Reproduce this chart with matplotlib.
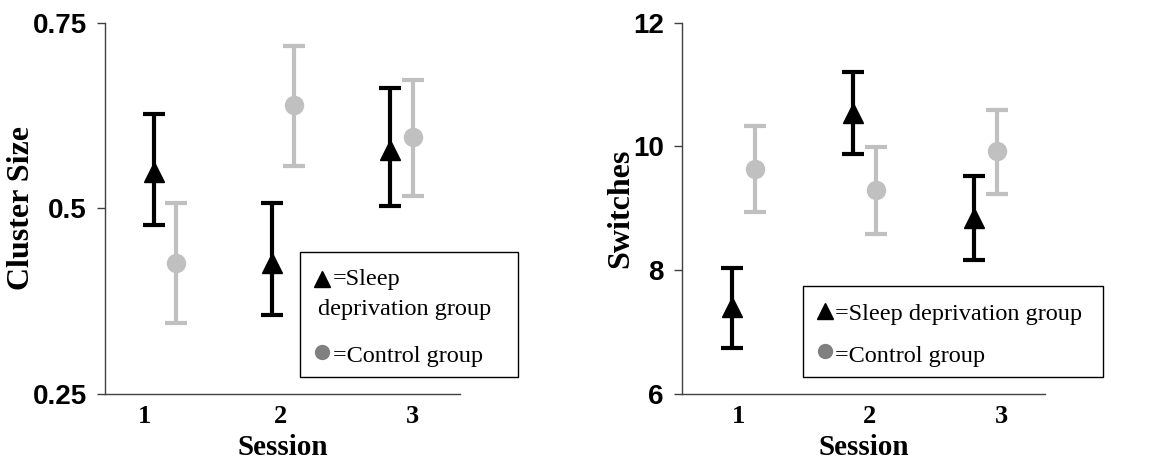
# Cluster size and switches by session, sleep deprivation vs control group

import matplotlib
matplotlib.use("Agg")
import matplotlib.pyplot as plt
from matplotlib.lines import Line2D
from matplotlib.patches import Rectangle

sessions = [1, 2, 3]
tick_labels = ["1", "2", "3"]

# Cluster size (mean, lower, upper)
cluster_sd = [0.549, 0.427, 0.578]
cluster_sd_lo = [0.477, 0.356, 0.503]
cluster_sd_hi = [0.627, 0.507, 0.662]
cluster_ctl = [0.427, 0.639, 0.596]
cluster_ctl_lo = [0.346, 0.557, 0.517]
cluster_ctl_hi = [0.507, 0.718, 0.673]

# Switches (mean, lower, upper)
switch_sd = [7.40, 10.54, 8.85]
switch_sd_lo = [6.75, 9.88, 8.17]
switch_sd_hi = [8.04, 11.21, 9.53]
switch_ctl = [9.63, 9.29, 9.92]
switch_ctl_lo = [8.94, 8.59, 9.23]
switch_ctl_hi = [10.33, 9.99, 10.59]

W, H = 1156, 459
fig = plt.figure(figsize=(W / 100, H / 100), dpi=100)

SERIF = "Liberation Serif"
SANS = "Liberation Sans"


def px(x, y):
    return x / W, 1 - y / H


def panel(rect, sd, sd_lo, sd_hi, ctl, ctl_lo, ctl_hi, ylim, yticks, yticklabels,
          ylabel, ylabel_x, tickpos):
    ax = fig.add_axes(rect)
    x_sd = [s - 0.09 for s in sessions]
    x_ctl = [s + 0.10 for s in sessions]
    ax.errorbar(x_ctl, ctl,
                yerr=[[m - l for m, l in zip(ctl, ctl_lo)], [h - m for m, h in zip(ctl, ctl_hi)]],
                fmt="o", color="#c0c0c0", ecolor="#c0c0c0", elinewidth=3,
                capsize=8, capthick=3, markersize=13, zorder=2)
    ax.errorbar(x_sd, sd,
                yerr=[[m - l for m, l in zip(sd, sd_lo)], [h - m for m, h in zip(sd, sd_hi)]],
                fmt="^", color="black", ecolor="black", elinewidth=3,
                capsize=8, capthick=3, markersize=14, zorder=3)
    ax.set_xlim(0.5, 3.5)
    ax.set_ylim(*ylim)
    ax.set_yticks(yticks)
    ax.set_yticklabels(yticklabels, fontfamily=SANS, fontweight="bold", fontsize=20)
    ax.set_xticks(tickpos)
    ax.set_xticklabels(tick_labels, fontfamily=SERIF, fontweight="bold", fontsize=19)
    ax.tick_params(axis="x", length=0, pad=8)
    ax.tick_params(axis="y", length=6, width=1, color="#404040", pad=7, direction="out")
    for s in ["top", "right"]:
        ax.spines[s].set_visible(False)
    for s in ["left", "bottom"]:
        ax.spines[s].set_color("#404040")
        ax.spines[s].set_linewidth(1)
    ax.set_xlabel("Session", fontfamily=SERIF, fontweight="bold", fontsize=21, va="baseline")
    ax.xaxis.set_label_coords(0.5, -(455 - 394) / (394 - 22.7))
    ax.set_ylabel(ylabel, fontfamily=SERIF, fontweight="bold", fontsize=23, va="center")
    ax.yaxis.set_label_coords(ylabel_x, 0.5)
    return ax


ax1 = panel([105 / W, 1 - 394 / H, 355 / W, (394 - 22.7) / H],
            cluster_sd, cluster_sd_lo, cluster_sd_hi,
            cluster_ctl, cluster_ctl_lo, cluster_ctl_hi,
            (0.25, 0.75), [0.25, 0.5, 0.75], ["0.25", "0.5", "0.75"],
            "Cluster Size", -0.234, [0.83, 1.98, 3.10])

ax2 = panel([682 / W, 1 - 394 / H, 363 / W, (394 - 22.7) / H],
            switch_sd, switch_sd_lo, switch_sd_hi,
            switch_ctl, switch_ctl_lo, switch_ctl_hi,
            (6, 12), [6, 8, 10, 12], ["6", "8", "10", "12"],
            "Switches", -0.168, [0.97, 2.05, 3.14])

# legend boxes drawn in figure pixels
leg_font = dict(fontfamily=SERIF, fontsize=17.5, color="black", va="baseline", ha="left")


def box(x0, y0, x1, y1):
    fig.add_artist(Rectangle(px(x0, y1), (x1 - x0) / W, (y1 - y0) / H,
                             transform=fig.transFigure, facecolor="white",
                             edgecolor="black", linewidth=1, zorder=5))


def marker(x, y, m, c, s):
    fx, fy = px(x, y)
    fig.add_artist(Line2D([fx], [fy], marker=m, color=c, markersize=s,
                          linestyle="none", transform=fig.transFigure, zorder=6))


box(300, 252, 518, 377)
marker(322, 279, "^", "black", 11)
fig.text(*px(333, 285), "=Sleep", zorder=6, **leg_font)
fig.text(*px(318, 315), "deprivation group", zorder=6, **leg_font)
marker(322, 352, "o", "#808080", 10)
fig.text(*px(333, 362), "=Control group", zorder=6, **leg_font)

box(803, 286, 1103, 377)
marker(825, 311, "^", "black", 11)
fig.text(*px(835, 320), "=Sleep deprivation group", zorder=6, **leg_font)
marker(825, 351, "o", "#808080", 10)
fig.text(*px(835, 362), "=Control group", zorder=6, **leg_font)

fig.savefig("out.png", dpi=100)
